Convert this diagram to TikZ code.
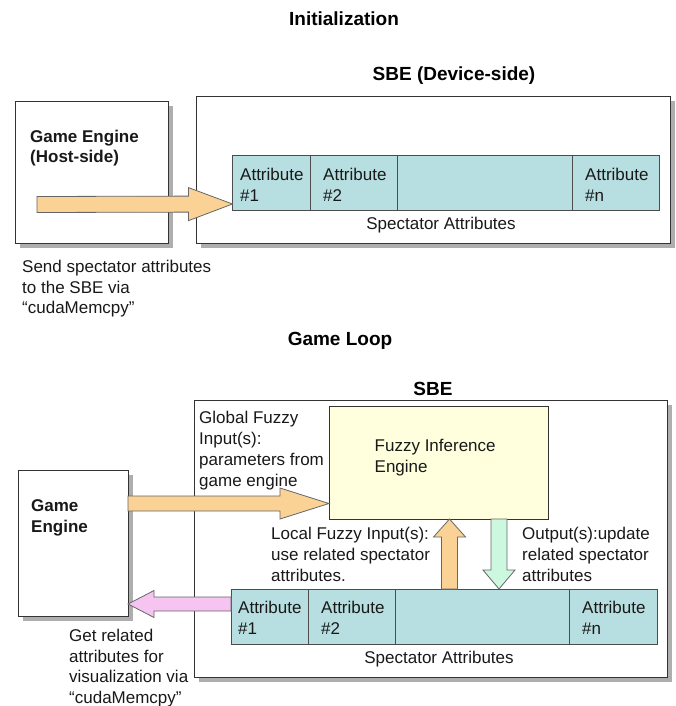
\documentclass[tikz,border=0pt]{standalone}
\usepackage{fontspec}
\setmainfont{Liberation Sans}
\usetikzlibrary{calc,shadows}
\definecolor{attrc}{HTML}{B7DEE0}
\definecolor{fiec}{HTML}{FFFFDD}
\definecolor{orc}{HTML}{FAD296}
\definecolor{grc}{HTML}{CCF8E0}
\definecolor{pkc}{HTML}{F6C4F0}
\tikzset{
 box/.style={draw=black!80, line width=1pt, fill=white, inner sep=0pt, outer sep=0pt, anchor=north west,
   drop shadow={shadow xshift=4.5pt, shadow yshift=-4.5pt, fill=black!45, opacity=0.7}},
 cellbox/.style={draw=black!70, line width=1pt, fill=attrc, inner sep=0pt, outer sep=0pt, anchor=north west, minimum height=55pt},
 txt/.style={inner sep=0pt, anchor=north west, align=left, font=\fontsize{17}{21}\selectfont, text=black!90},
 lbl/.style={inner sep=0pt, anchor=base, font=\fontsize{17}{21}\selectfont, text=black!90},
 ttl/.style={inner sep=0pt, anchor=base, font=\fontsize{19}{23}\selectfont\bfseries},
 barrow/.style={draw=black!60, line width=0.8pt, line join=miter},
}
\newcommand\blockarrow[6]{%
 \coordinate (ba) at (#2);
 \coordinate (bt) at (#3);
 \coordinate (bh) at ($(bt)!#6!(ba)$);
 \draw[barrow,#1] ($(ba)!#4!90:(bt)$) -- ($(bh)!#4!90:(bt)$) -- ($(bh)!#5!90:(bt)$) -- (bt)
   -- ($(bh)!#5!-90:(bt)$) -- ($(bh)!#4!-90:(bt)$) -- ($(ba)!#4!-90:(bt)$) -- cycle;
}
\begin{document}
\begin{tikzpicture}[x=1pt,y=-1pt]
\useasboundingbox (0,0) rectangle (675,706);
% ---------- Initialization ----------
\node[ttl] (t1) at (344,26) {Initialization};
\node[ttl] (t2) at (454,81) {SBE (Device-side)};
\node[box, minimum width=153pt, minimum height=141pt] (ge1) at (15,102) {};
\node[box, minimum width=474pt, minimum height=146pt] (sbe1) at (196,97) {};
\node[cellbox, minimum width=77.5pt] (c11) at (232.5,155) {};
\node[cellbox, minimum width=87pt] (c12) at (310,155) {};
\node[cellbox, minimum width=175pt] (c13) at (397,155) {};
\node[cellbox, minimum width=87pt] (c14) at (572,155) {};
\node[txt, font=\fontsize{17}{20}\selectfont\bfseries] (ge1t) at (30,130) {Game Engine\\(Host-side)};
\node[txt] (c11t) at (240,168) {Attribute\\\#1};
\node[txt] (c12t) at (323,168) {Attribute\\\#2};
\node[txt] (c14t) at (585,168) {Attribute\\\#n};
\node[lbl] (sa1) at (441,229.5) {Spectator Attributes};
\node[txt, font=\fontsize{17}{20.5}\selectfont] (send) at (22,260) {Send spectator attributes\\to the SBE via\\“cudaMemcpy”};
\coordinate (a1s) at (37,204.5);
\coordinate (a1e) at ($(c11.south west)+(0,-6)$);
\blockarrow{fill=orc}{a1s}{a1e}{8pt}{16.5pt}{44pt}
% ---------- Game Loop ----------
\node[ttl] (t3) at (340,345.5) {Game Loop};
\node[ttl] (t4) at (433,395) {SBE};
\node[box, minimum width=110pt, minimum height=146pt] (ge2) at (18,470) {};
\node[box, minimum width=473pt, minimum height=277pt] (sbe2) at (194,400) {};
\node[draw=black!80, line width=1pt, fill=fiec, inner sep=0pt, outer sep=0pt, anchor=north west,
   minimum width=219pt, minimum height=113pt] (fie) at (329,406) {};
\node[cellbox, minimum width=77pt] (c21) at (231,589) {};
\node[cellbox, minimum width=87pt] (c22) at (308,589) {};
\node[cellbox, minimum width=174.5pt] (c23) at (395,589) {};
\node[cellbox, minimum width=87.5pt] (c24) at (569.5,589) {};
\node[txt, font=\fontsize{17}{21}\selectfont\bfseries] (ge2t) at (31,499) {Game\\Engine};
\node[txt] (fiet) at (374.5,439) {Fuzzy Inference\\Engine};
\node[txt] (glob) at (199,411) {Global Fuzzy\\Input(s):\\parameters from\\game engine};
\node[txt] (loc) at (271,527) {Local Fuzzy Input(s):\\use related spectator\\attributes.};
\node[txt] (outp) at (522,527) {Output(s):update\\related spectator\\attributes};
\node[txt] (c21t) at (238,601) {Attribute\\\#1};
\node[txt] (c22t) at (321,601) {Attribute\\\#2};
\node[txt] (c24t) at (582,601) {Attribute\\\#n};
\node[lbl] (sa2) at (439,663.5) {Spectator Attributes};
\node[txt, font=\fontsize{17}{20.7}\selectfont] (getr) at (69,629) {Get related\\attributes for\\visualization via\\“cudaMemcpy”};
% arrows
\coordinate (yr) at (0,503.5);
\blockarrow{fill=orc}{ge2.east |- yr}{fie.west |- yr}{7.5pt}{15.5pt}{49pt}
\coordinate (xu) at (449.5,0);
\blockarrow{fill=orc}{c23.north -| xu}{fie.south -| xu}{8pt}{16pt}{18pt}
\coordinate (xd) at (499,0);
\blockarrow{fill=grc}{fie.south -| xd}{c23.north -| xd}{8pt}{16pt}{19pt}
\coordinate (yp) at (0,604);
\blockarrow{fill=pkc}{c21.west |- yp}{ge2.east |- yp}{7pt}{13.5pt}{26pt}
\end{tikzpicture}
\end{document}
